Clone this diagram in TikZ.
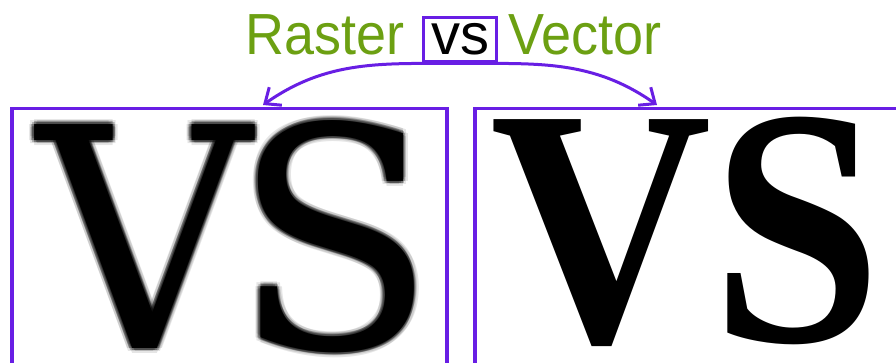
\documentclass[tikz,border=0pt]{standalone}
\usepackage{fontspec}
\usepackage{graphicx}
\usetikzlibrary{arrows.meta}
\setmainfont{Liberation Serif}
\newfontfamily\labelfont{Liberation Sans}
\newfontfamily\rasterfont{DejaVu Serif}
\definecolor{vpurple}{RGB}{104,30,228}
\definecolor{vgreen}{RGB}{108,160,18}
\newcommand{\rastervs}{\resizebox{398pt}{228pt}{\rasterfont V\kern-0.06em S}}
\newcommand{\vectorvs}{\resizebox{392pt}{224pt}{\bfseries VS}}
\tikzset{
  frame/.style={draw=vpurple, line width=3.5pt},
  title/.style={text=vgreen, font=\labelfont\fontsize{58}{58}\selectfont, inner sep=0pt, anchor=base west},
  linkarrow/.style={draw=vpurple, line width=3pt, -{Straight Barb[length=13pt,width=22pt,line width=3pt]}},
  glyph/.style={inner sep=0pt, anchor=south west}
}
\begin{document}
\begin{tikzpicture}[x=1pt,y=1pt]
\useasboundingbox (0,0) rectangle (896,363);
\fill[white] (0,0) rectangle (896,363);
% boxes
\node[frame, minimum width=435pt, minimum height=258pt, anchor=north west, inner sep=0pt] (leftbox) at (10,256) {};
\node[frame, minimum width=440pt, minimum height=258pt, anchor=north west, inner sep=0pt] (rightbox) at (473,256) {};
% raster VS (blurred)
\foreach \dx/\dy in {-5/0,5/0,0/-5,0/5,-3.5/-3.5,3.5/3.5,-3.5/3.5,3.5/-3.5}
  \node[glyph, text=black, opacity=0.1] at (37+\dx,10+\dy) {\rastervs};
\foreach \dx/\dy in {-2.5/0,2.5/0,0/-2.5,0/2.5,-1.8/-1.8,1.8/1.8,-1.8/1.8,1.8/-1.8}
  \node[glyph, text=black, opacity=0.25] at (37+\dx,10+\dy) {\rastervs};
\node[glyph, text=black] (rastervs) at (37,10) {\rastervs};
% vector VS
\node[glyph, text=black] (vectorvs) at (490,16) {\vectorvs};
% titles
\node[title] (raster) at (245,308) {\scalebox{0.93}[1]{Raster}};
\node[title] (vector) at (508,308) {\scalebox{0.93}[1]{Vector}};
\node[frame, line width=3pt, minimum width=73pt, minimum height=44pt, inner sep=0pt] (vsbox) at (460,323) {};
\node[inner sep=0pt, anchor=base, font=\labelfont\fontsize{58}{58}\selectfont] (vslabel) at (460,308) {vs};
% connectors
\coordinate (lefttip) at (263,258);
\coordinate (righttip) at (657,258);
\draw[linkarrow] (vsbox.south) to[out=180, in=35] (lefttip);
\draw[linkarrow] (vsbox.south) to[out=0, in=145] (righttip);
\end{tikzpicture}
\end{document}
